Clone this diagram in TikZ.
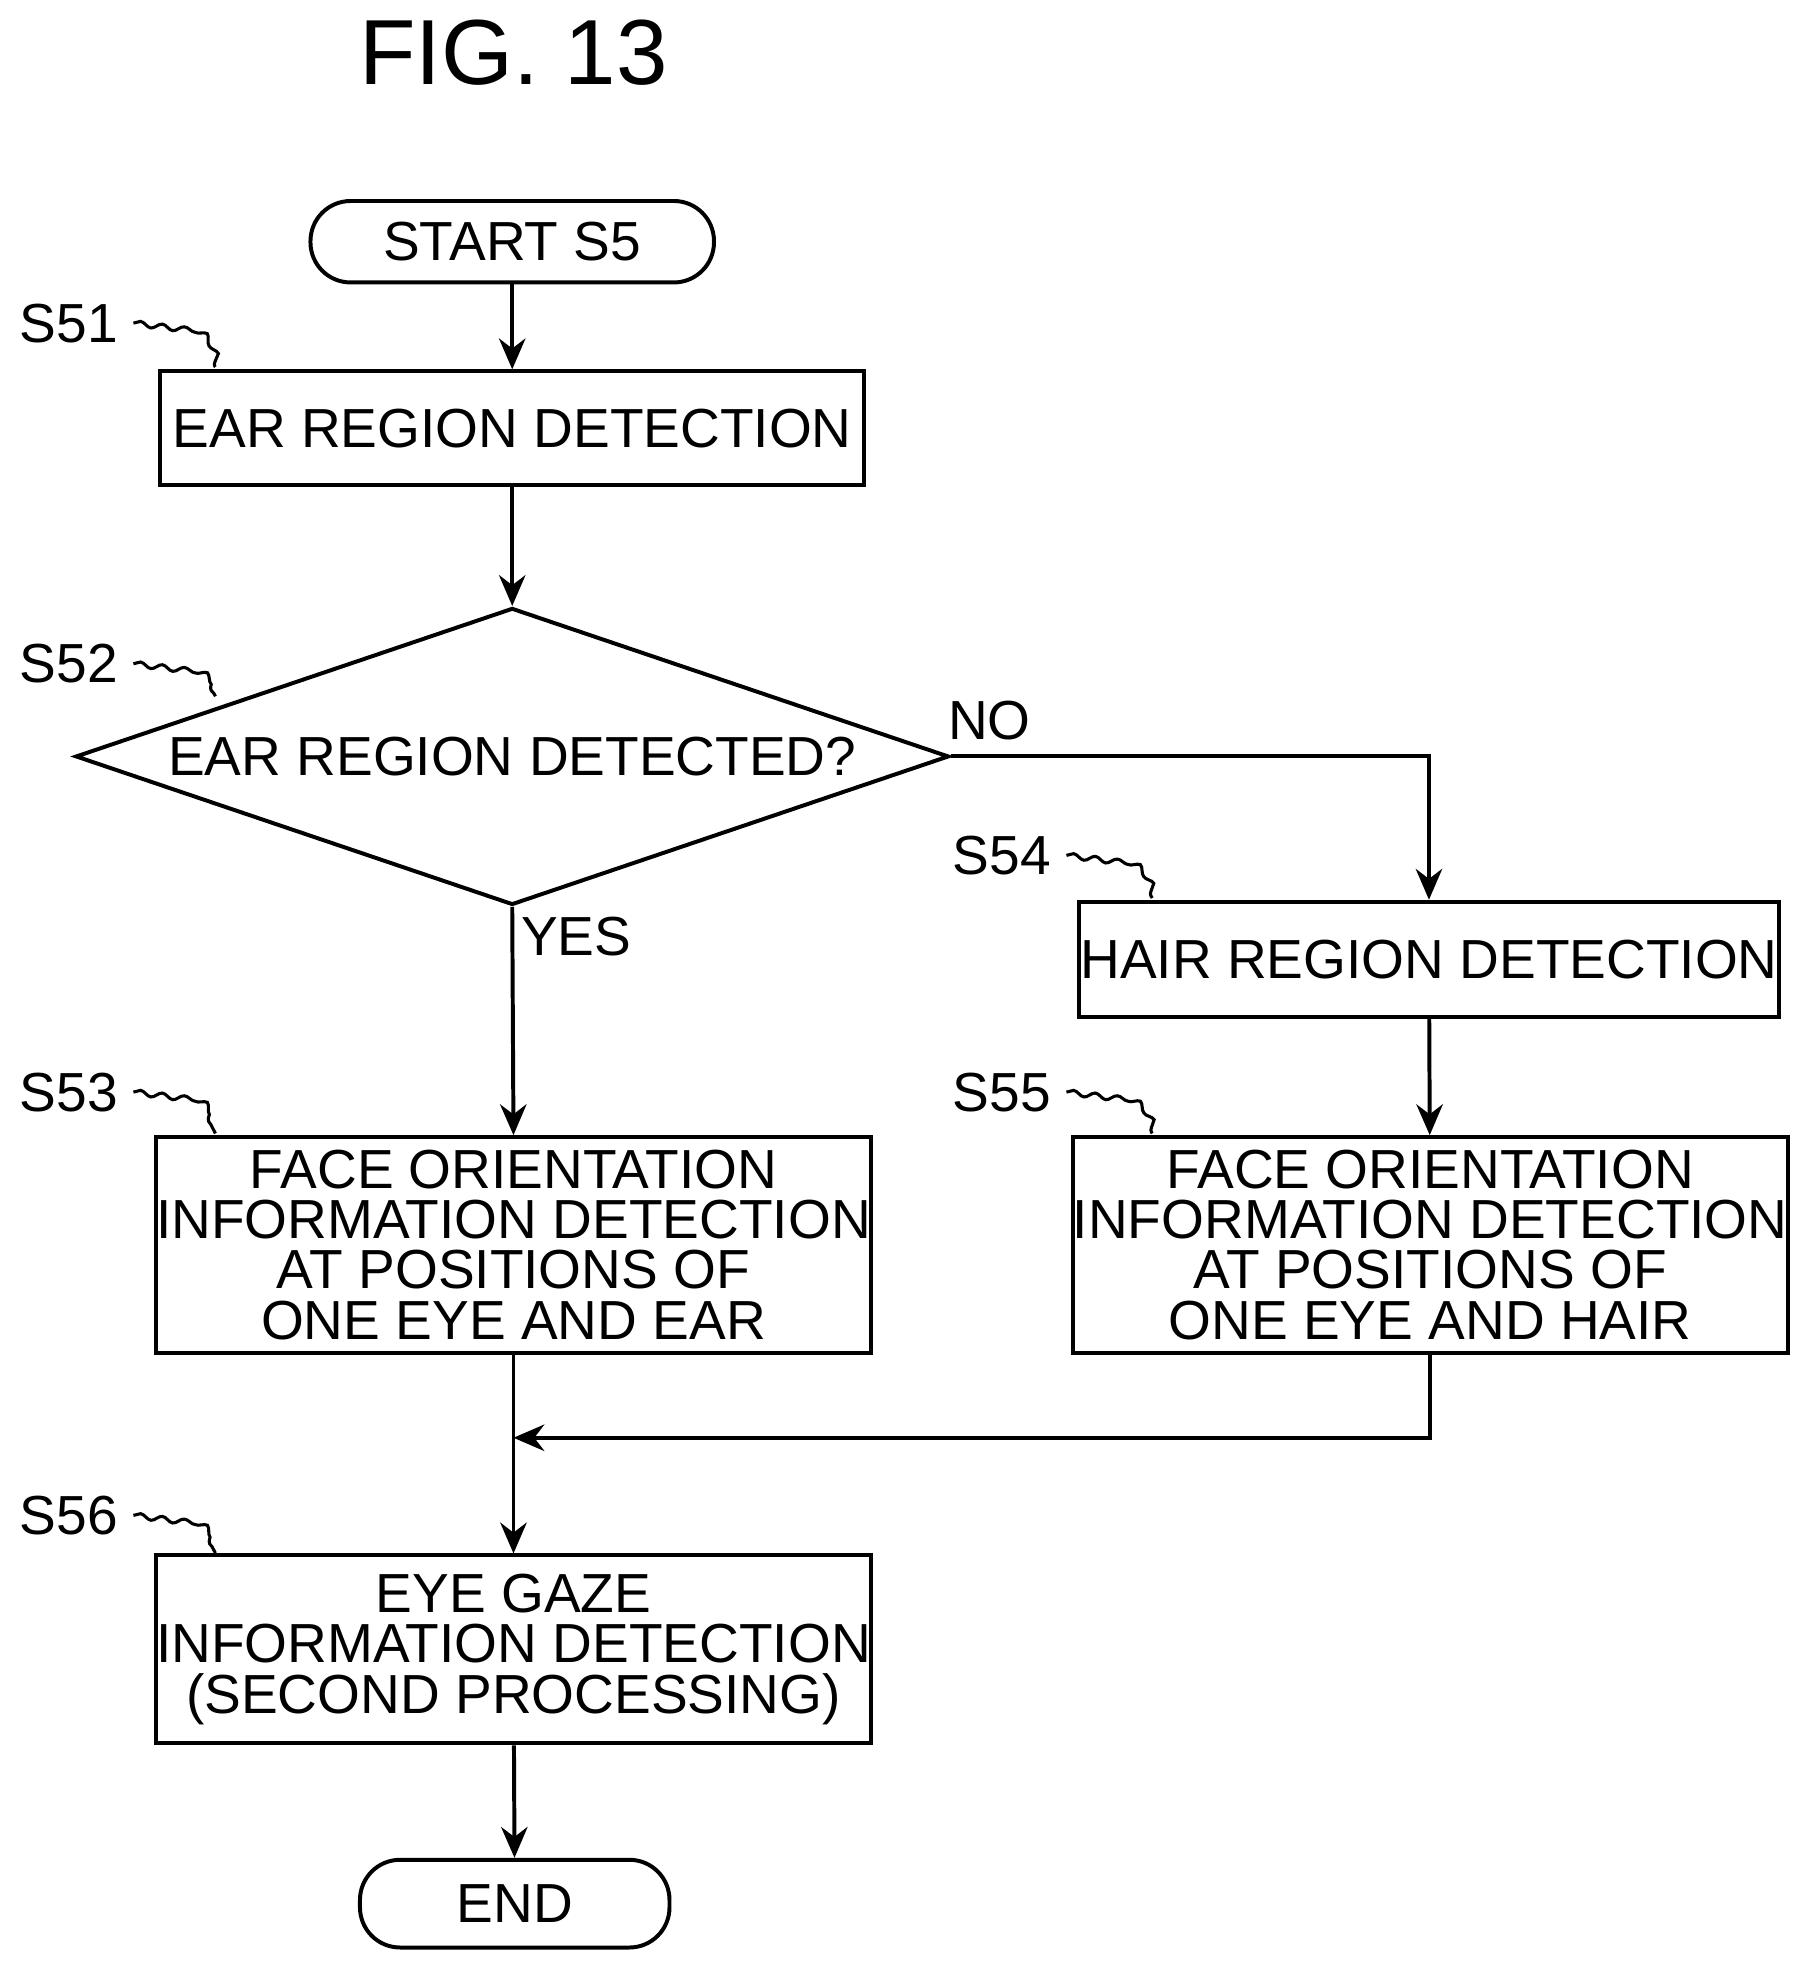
\documentclass[tikz,border=0pt]{standalone}
\usepackage{fontspec}
\setmainfont{Liberation Sans}
\usetikzlibrary{shapes.geometric,decorations.pathmorphing,arrows.meta}
\begin{document}
\begin{tikzpicture}[x=0.01cm,y=-0.01cm,
  every node/.style={font=\fontsize{12.5}{11.4}\selectfont},
  box/.style={draw,line width=0.9pt,inner sep=0pt,align=center},
  term/.style={draw,line width=0.9pt,rounded corners=0.32cm,inner sep=0pt},
  arr/.style={line width=0.9pt,-{Stealth[length=7pt,width=6pt]}},
  ln/.style={line width=0.9pt},
  sq/.style={line width=0.7pt,decorate,decoration={snake,amplitude=0.6pt,segment length=5pt}},
  lab/.style={font=\fontsize{12.5}{14}\selectfont}]
\useasboundingbox (0,0) rectangle (1440,1569);
\node[font=\fontsize{21}{24}\selectfont] (title) at (410,42) {FIG. 13};
\node[term,minimum width=3.22cm,minimum height=0.65cm] (start) at (409,193) {START S5};
\node[box,minimum width=5.62cm,minimum height=0.91cm] (s51) at (409,342) {EAR REGION DETECTION};
\node[draw,line width=0.9pt,diamond,aspect=2.94,minimum width=6.97cm,minimum height=2.37cm,inner sep=0pt] (s52) at (409,604) {EAR REGION DETECTED?};
\node[box,minimum width=5.58cm,minimum height=0.92cm] (s54) at (1141,766) {HAIR REGION DETECTION};
\node[box,minimum width=5.64cm,minimum height=1.72cm] (s53) at (410,994) {FACE ORIENTATION\\INFORMATION DETECTION\\AT POSITIONS OF\\ONE EYE AND EAR};
\node[box,minimum width=5.6cm,minimum height=1.72cm] (s55) at (1142,994) {FACE ORIENTATION\\INFORMATION DETECTION\\AT POSITIONS OF\\ONE EYE AND HAIR};
\node[box,minimum width=5.64cm,minimum height=1.5cm] (s56) at (410,1317) {EYE GAZE\\INFORMATION DETECTION\\(SECOND PROCESSING)};
\node[term,minimum width=2.47cm,minimum height=0.7cm] (end) at (411,1520) {END};
% labels
\node[lab] (l51) at (55,258) {S51};
\node[lab] (l52) at (55,530) {S52};
\node[lab] (l53) at (55,872) {S53};
\node[lab] (l54) at (800,683) {S54};
\node[lab] (l55) at (800,872) {S55};
\node[lab] (l56) at (55,1210) {S56};
\node[lab] (no) at (790,575) {NO};
\node[lab] (yes) at (460,748) {YES};
\coordinate (c51) at (172,293);
\coordinate (c52) at (172,556);
\coordinate (c53) at (172,905);
\coordinate (c54) at (920,717);
\coordinate (c55) at (920,905);
\coordinate (c56) at (172,1240);
\draw[sq] (l51.east) -- ++(40,5) to[out=0,in=120] (c51);
\draw[sq] (l52.east) -- ++(40,5) to[out=0,in=120] (c52);
\draw[sq] (l53.east) -- ++(40,5) to[out=0,in=120] (c53);
\draw[sq] (l54.east) -- ++(40,5) to[out=0,in=120] (c54);
\draw[sq] (l55.east) -- ++(40,5) to[out=0,in=120] (c55);
\draw[sq] (l56.east) -- ++(40,5) to[out=0,in=120] (c56);
% connectors
\draw[arr] (start) -- (s51);
\draw[arr] (s51) -- (s52);
\draw[arr] (s52.south) -- (s53.north);
\draw[arr] (s52.east) -| (s54.north);
\draw[arr] (s54) -- (s55);
\coordinate (m) at (410,1148);
\draw[arr] (s55.south) |- (m);
\draw[arr] (s53) -- (s56);
\draw[arr] (s56) -- (end);
\end{tikzpicture}
\end{document}
